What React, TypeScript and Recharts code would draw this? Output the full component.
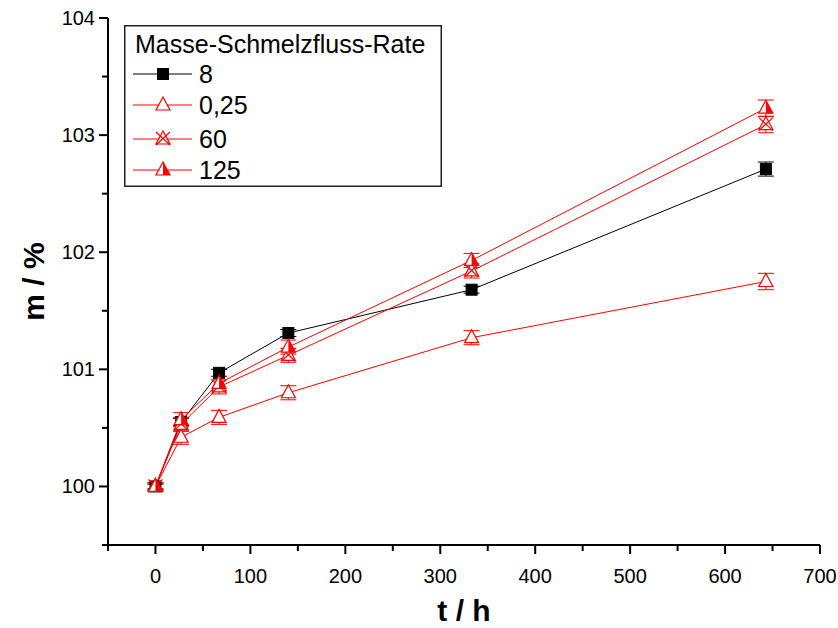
import React from 'react';
import { LineChart, Line, XAxis, YAxis, Legend, ErrorBar } from 'recharts';

const hours = [0, 27, 67, 140, 333, 643];
const mfr8 = [100.0, 100.55, 100.97, 101.31, 101.68, 102.71];
const mfr025 = [100.0, 100.42, 100.59, 100.8, 101.27, 101.75];
const mfr60 = [100.0, 100.53, 100.85, 101.12, 101.84, 103.09];
const mfr125 = [100.0, 100.57, 100.88, 101.19, 101.93, 103.23];
const err8 = [0.02, 0.03, 0.03, 0.03, 0.03, 0.06];
const err025 = [0.03, 0.06, 0.06, 0.06, 0.06, 0.07];
const err60 = [0.03, 0.06, 0.06, 0.06, 0.06, 0.07];
const err125 = [0.03, 0.06, 0.06, 0.06, 0.06, 0.07];

const xTicks = [-50, 0, 50, 100, 150, 200, 250, 300, 350, 400, 450, 500, 550, 600, 650, 700];
const yTicks = [99.5, 100, 100.5, 101, 101.5, 102, 102.5, 103, 103.5, 104];

const FONT = '"Liberation Sans", Arial, Helvetica, sans-serif';
const RED = '#ff0000';

const data = hours.map((t, i) => ({
  t,
  m8: mfr8[i],
  m025: mfr025[i],
  m60: mfr60[i],
  m125: mfr125[i],
  e8: err8[i],
  e025: err025[i],
  e60: err60[i],
  e125: err125[i],
}));

type Kind = 'square' | 'open' | 'cross' | 'half';

const series: { key: string; err: string; name: string; color: string; kind: Kind }[] = [
  { key: 'm8', err: 'e8', name: '8', color: '#000', kind: 'square' },
  { key: 'm025', err: 'e025', name: '0,25', color: RED, kind: 'open' },
  { key: 'm60', err: 'e60', name: '60', color: RED, kind: 'cross' },
  { key: 'm125', err: 'e125', name: '125', color: RED, kind: 'half' },
];

function Marker({ cx, cy, kind, color }: { cx: number; cy: number; kind: Kind; color: string }) {
  if (kind === 'square') {
    return <rect x={cx - 5.5} y={cy - 5.5} width={11} height={11} fill={color} stroke={color} strokeWidth={1} />;
  }
  const tri = `M${cx},${cy - 8} L${cx + 7},${cy + 5} L${cx - 7},${cy + 5} Z`;
  return (
    <g>
      <path d={tri} fill="#fff" stroke={color} strokeWidth={1.2} />
      {kind === 'cross' && (
        <g stroke={color} strokeWidth={1.2}>
          <line x1={cx - 7} y1={cy - 7} x2={cx + 7} y2={cy + 6} />
          <line x1={cx + 7} y1={cy - 7} x2={cx - 7} y2={cy + 6} />
        </g>
      )}
      {kind === 'half' && <path d={`M${cx},${cy - 8} L${cx + 7},${cy + 5} L${cx},${cy + 5} Z`} fill={color} />}
    </g>
  );
}

function BottomTick(props: any) {
  const { x, y, payload } = props;
  const v = payload.value;
  const major = v % 100 === 0;
  return (
    <g>
      <line x1={x} x2={x} y1={y} y2={y + (major ? 9 : 6)} stroke="#000" strokeWidth={2} />
      {major && (
        <text x={x} y={y + 38} textAnchor="middle" fontSize={20} fontFamily={FONT} fill="#000">
          {v}
        </text>
      )}
    </g>
  );
}

function LeftTick(props: any) {
  const { x, y, payload } = props;
  const v = payload.value;
  const major = Number.isInteger(v);
  return (
    <g>
      <line x1={x} x2={x - (major ? 9 : 6)} y1={y} y2={y} stroke="#000" strokeWidth={2} />
      {major && (
        <text x={x - 13} y={y + 7} textAnchor="end" fontSize={20} fontFamily={FONT} fill="#000">
          {v}
        </text>
      )}
    </g>
  );
}

function TopTick(props: any) {
  const { x, y, payload } = props;
  const major = payload.value % 100 === 0;
  return <line x1={x} x2={x} y1={y} y2={y + (major ? 8 : 5)} stroke="#000" strokeWidth={1.5} />;
}

function RightTick(props: any) {
  const { x, y, payload } = props;
  const major = Number.isInteger(payload.value);
  return <line x1={x} x2={x - (major ? 8 : 5)} y1={y} y2={y} stroke="#000" strokeWidth={1.5} />;
}

function LegendBox() {
  const rowY = [49, 80, 114, 145];
  return (
    <svg width={318} height={162} style={{ display: 'block' }}>
      <rect x={0.75} y={0.75} width={316.5} height={160.5} fill="#fff" stroke="#222" strokeWidth={1.5} />
      <text x={11} y={28} fontSize={25} fontFamily={FONT} fill="#000">
        Masse-Schmelzfluss-Rate
      </text>
      {series.map((s, i) => (
        <g key={s.key}>
          <line x1={9} x2={68} y1={rowY[i]} y2={rowY[i]} stroke={s.color} strokeWidth={1} />
          <Marker cx={39} cy={rowY[i]} kind={s.kind} color={s.color} />
          <text x={75} y={rowY[i] + 9} fontSize={25} fontFamily={FONT} fill="#000">
            {s.name}
          </text>
        </g>
      ))}
    </svg>
  );
}

export default function App() {
  return (
    <div style={{ position: 'absolute', left: 0, top: 0, width: 838, height: 628, background: '#fff' }}>
      <LineChart width={838} height={628} data={data} margin={{ top: 18, right: 18, bottom: 23, left: 48 }}>
        <XAxis
          dataKey="t"
          type="number"
          domain={[-50, 700]}
          ticks={xTicks}
          interval={0}
          allowDataOverflow
          height={60}
          tickSize={0}
          tickMargin={0}
          tickLine={false}
          tick={<BottomTick />}
          axisLine={{ stroke: '#000', strokeWidth: 2 }}
          label={({ viewBox }: any) => (
            <text
              x={viewBox.x + viewBox.width / 2}
              y={viewBox.y + 76}
              textAnchor="middle"
              fontSize={30}
              fontWeight="bold"
              fontFamily={FONT}
              fill="#000"
            >
              t / h
            </text>
          )}
        />
        <XAxis
          xAxisId="top"
          orientation="top"
          dataKey="t"
          type="number"
          domain={[-50, 700]}
          ticks={xTicks}
          interval={0}
          height={0}
          tickSize={0}
          tickMargin={0}
          tickLine={false}
          tick={<TopTick />}
          axisLine={{ stroke: '#000', strokeWidth: 1.5 }}
        />
        <YAxis
          type="number"
          domain={[99.5, 104]}
          ticks={yTicks}
          interval={0}
          allowDataOverflow
          width={60}
          tickSize={0}
          tickMargin={0}
          tickLine={false}
          tick={<LeftTick />}
          axisLine={{ stroke: '#000', strokeWidth: 2 }}
          label={({ viewBox }: any) => {
            const cx = 33;
            const cy = viewBox.y + viewBox.height / 2;
            return (
              <text
                x={cx}
                y={cy}
                transform={`rotate(-90, ${cx}, ${cy})`}
                textAnchor="middle"
                dominantBaseline="central"
                fontSize={30}
                fontWeight="bold"
                fontFamily={FONT}
                fill="#000"
              >
                m / %
              </text>
            );
          }}
        />
        <YAxis
          yAxisId="right"
          orientation="right"
          type="number"
          domain={[99.5, 104]}
          ticks={yTicks}
          interval={0}
          width={0}
          tickSize={0}
          tickMargin={0}
          tickLine={false}
          tick={<RightTick />}
          axisLine={{ stroke: '#000', strokeWidth: 1.5 }}
        />
        <Legend
          layout="vertical"
          align="center"
          verticalAlign="middle"
          wrapperStyle={{ left: 124, top: 25, width: 318, height: 162 }}
          content={() => <LegendBox />}
        />
        {series.map((s) => (
          <Line
            key={s.key}
            dataKey={s.key}
            name={s.name}
            type="linear"
            stroke={s.color}
            strokeWidth={1}
            isAnimationActive={false}
            activeDot={false}
            dot={(p: any) => <Marker key={`${s.key}-${p.index}`} cx={p.cx} cy={p.cy} kind={s.kind} color={s.color} />}
          >
            <ErrorBar dataKey={s.err} direction="y" width={8} stroke={s.color} strokeWidth={1} isAnimationActive={false} />
          </Line>
        ))}
      </LineChart>
    </div>
  );
}
